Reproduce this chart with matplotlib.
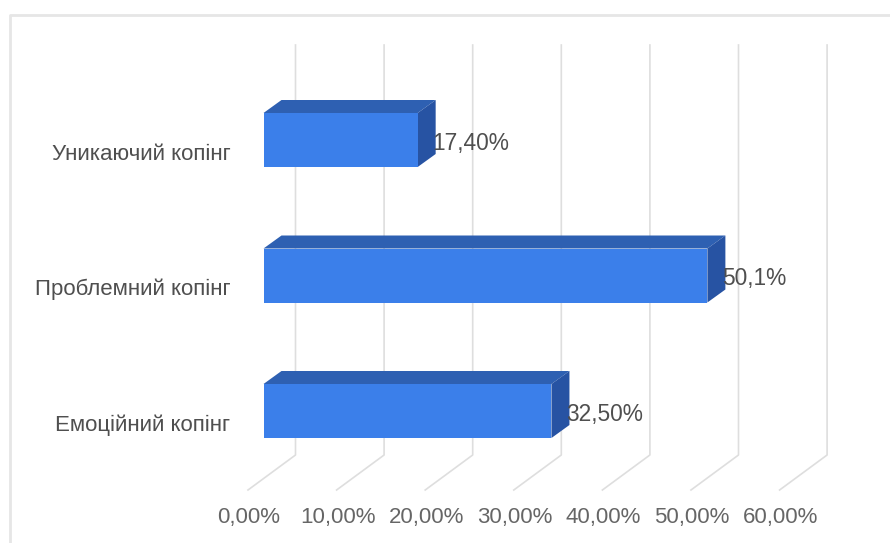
"""Pseudo-3D horizontal bar chart of coping strategies."""
import matplotlib

matplotlib.use("Agg")
import matplotlib.pyplot as plt
from matplotlib.patches import Polygon

categories = ["Емоційний копінг", "Проблемний копінг", "Уникаючий копінг"]
values = [32.5, 50.1, 17.4]
value_labels = ["32,50%", "50,1%", "17,40%"]
x_ticks = [0, 10, 20, 30, 40, 50, 60]
x_tick_labels = ["0,00%", "10,00%", "20,00%", "30,00%", "40,00%", "50,00%", "60,00%"]

W, H = 890, 543
PX_PER_PCT = 8.86
PX_PER_CAT = 135.5
ZERO_PX = 263.5
BASE_PX = 411.0

FRONT = "#3b7fea"
TOP = "#2e60b2"
SIDE = "#2753a3"
GRID = "#dedede"


def dx(px):
    return px / PX_PER_PCT


def dy(px):
    return px / PX_PER_CAT


plt.rcParams["font.family"] = ["Liberation Sans", "DejaVu Sans"]

fig = plt.figure(figsize=(W / 100, H / 100), dpi=100)
ax = fig.add_axes([0, 0, 1, 1])
ax.set_xlim(-ZERO_PX / PX_PER_PCT, (W - ZERO_PX) / PX_PER_PCT)
ax.set_ylim(-(H - BASE_PX) / PX_PER_CAT, BASE_PX / PX_PER_CAT)
ax.axis("off")

# outer frame, open at the right and bottom like the source screenshot
ax.plot([10 / W, 10 / W, 1], [0, 1 - 15 / H, 1 - 15 / H], transform=ax.transAxes,
        color="#e6e6e6", lw=2.0, zorder=1)

# back wall lines and their floor diagonals
wall_top = dy(BASE_PX - 45)
wall_bottom = -dy(455 - BASE_PX)
for t, label in zip(x_ticks, x_tick_labels):
    x_back = t + dx(32)
    x_floor = t - dx(15.5)
    y_floor = wall_bottom - dy(35)
    ax.plot([x_back, x_back, x_floor], [wall_top, wall_bottom, y_floor],
            color=GRID, lw=1.2, zorder=2, solid_joinstyle="round")
    ax.text(t - dx(14.5), -dy(517.5 - BASE_PX), label, ha="center", va="center",
            fontsize=16, color="#666666", zorder=6)

# bars: flat front from barh, top and side faces offset by the depth
bar_h = dy(54)
depth_x, depth_y = dx(18), dy(13)
for i, (name, v, text) in enumerate(zip(categories, values, value_labels)):
    top = i + bar_h / 2
    bottom = i - bar_h / 2
    ax.add_patch(Polygon([(0, top), (v, top), (v + depth_x, top + depth_y), (depth_x, top + depth_y)],
                         closed=True, facecolor=TOP, edgecolor="none", zorder=3))
    ax.add_patch(Polygon([(v, bottom), (v, top), (v + depth_x, top + depth_y), (v + depth_x, bottom + depth_y)],
                         closed=True, facecolor=SIDE, edgecolor="none", zorder=3))
    ax.barh(i, v, height=bar_h, color=FRONT, edgecolor="none", zorder=4)
    ax.text(v + dx(15), i - dy(3.5), text, ha="left", va="center", fontsize=16.4,
            color="#4f4f4f", zorder=6)
    ax.text(-dx(33), i - dy(14), name, ha="right", va="center", fontsize=16,
            color="#4f4f4f", zorder=6)

fig.savefig("out.png", dpi=100)
plt.close(fig)
